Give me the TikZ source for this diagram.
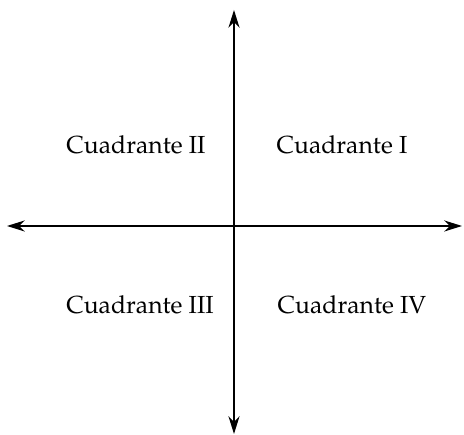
\documentclass[tikz,border=0pt]{standalone}
\usepackage[T1]{fontenc}
\usepackage{mathpazo}
\usepackage{tikz}
\usetikzlibrary{arrows.meta, positioning}

\begin{document}
\begin{tikzpicture}[>={Stealth[length=8pt, width=5pt]}, line cap=round, line join=round,
    x=0.0158cm, y=0.0158cm,
    quadlabel/.style={inner sep=0pt, anchor=center, font=\fontsize{11.1}{13}\selectfont}]
    \useasboundingbox (0,0) rectangle (464,435);

    % Axis ends
    \coordinate (west) at (7,209);
    \coordinate (east) at (462,209);
    \coordinate (south) at (234,1);
    \coordinate (north) at (234,425);

    % Axes
    \draw[<->, semithick] (west) -- (east);
    \draw[<->, semithick] (south) -- (north);

    % Quadrant labels
    \node[quadlabel] (qI)   at (342,290) {Cuadrante I};
    \node[quadlabel] (qII)  at (136,290) {Cuadrante II};
    \node[quadlabel] (qIII) at (140,130) {Cuadrante III};
    \node[quadlabel] (qIV)  at (352,130) {Cuadrante IV};

\end{tikzpicture}
\end{document}
